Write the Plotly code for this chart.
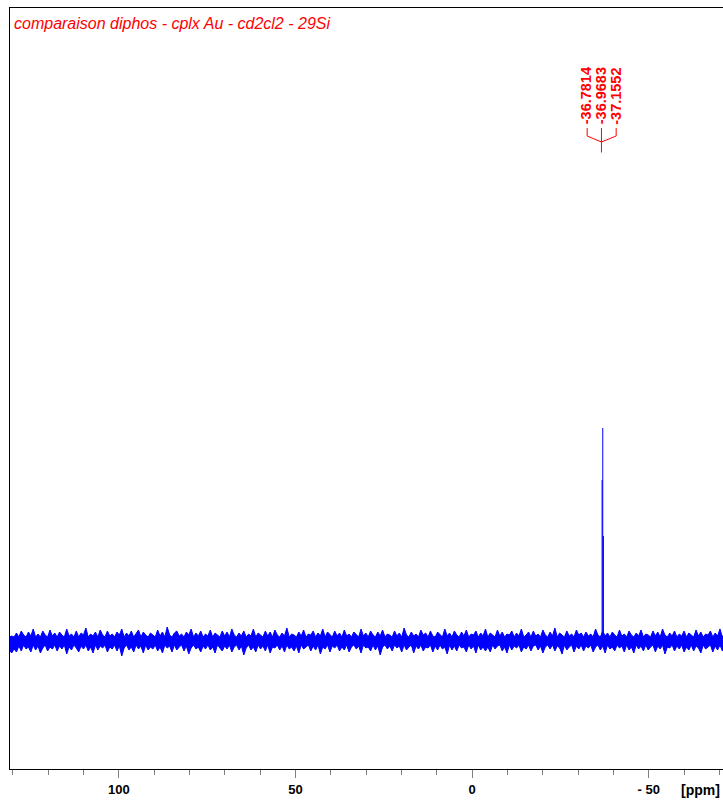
import numpy as np
import plotly.graph_objects as go

# ---- data ----
title_text = "comparaison diphos - cplx Au - cd2cl2 - 29Si"
ppm_start = 131.0
ppm_end = -71.5
# upper / lower envelope of the baseline noise band (intensity units)
noise_upper = [
    4,5,4,8,4,10,6,4,9,5,12,4,7,4,10,6,4,11,5,8,
    4,9,6,4,12,5,7,4,10,4,8,6,13,4,7,5,9,4,11,6,
    4,10,5,7,4,9,6,12,4,8,5,10,4,7,11,4,9,6,4,8,
    6,4,11,5,9,4,14,6,4,8,10,5,7,4,9,6,12,4,8,5,
    10,4,7,5,11,4,8,6,4,10,5,9,4,12,6,4,8,5,10,4,
    7,5,12,4,8,6,4,10,5,9,4,11,6,4,8,5,13,4,7,6,
    4,9,5,11,4,7,6,10,4,8,5,12,4,9,6,4,10,5,8,4,
    11,5,7,4,9,6,4,12,5,8,4,10,6,4,9,5,11,4,7,6,
    4,10,5,8,4,13,6,4,9,5,7,4,11,6,8,4,10,5,4,9,
    6,4,12,5,8,4,10,6,4,9,5,11,4,7,6,10,4,8,5,12,
    4,8,6,4,11,5,9,4,7,6,10,4,8,5,12,4,6,9,4,10,
    5,7,4,11,6,4,9,5,13,4,8,6,4,10,5,7,4,11,6,8,
    4,9,5,7,4,12,6,4,10,5,8,4,9,6,4,11,5,7,4,10,
    6,4,8,5,11,4,7,6,4,10,5,9,4,12,6,4,8,5,10,4,
    7,5,10,4,8,6,4,11,5,9,4,7,6,10,4,8,5,12,4,9,
]
noise_lower = [
    -9,-12,-8,-11,-5,-10,-4,-8,-6,-11,-4,-9,-5,-12,-7,-4,-10,-6,-8,-4,
    -10,-5,-8,-4,-13,-6,-9,-4,-7,-11,-5,-8,-4,-10,-6,-12,-4,-9,-5,-7,
    -4,-11,-6,-8,-4,-10,-5,-15,-7,-4,-9,-6,-11,-4,-8,-5,-12,-4,-9,-6,
    -8,-4,-10,-6,-12,-4,-7,-5,-11,-4,-9,-6,-4,-10,-5,-13,-7,-4,-8,-6,
    -11,-5,-8,-4,-9,-6,-12,-4,-7,-10,-5,-8,-4,-11,-6,-4,-9,-5,-14,-7,
    -4,-9,-6,-11,-4,-8,-5,-10,-4,-12,-6,-7,-4,-9,-5,-11,-4,-8,-6,-10,
    -5,-12,-4,-8,-6,-4,-10,-5,-9,-4,-13,-6,-8,-4,-11,-5,-7,-4,-10,-6,
    -9,-4,-11,-6,-4,-8,-5,-12,-4,-7,-6,-10,-4,-9,-5,-14,-6,-4,-8,-5,
    -10,-4,-7,-5,-11,-4,-9,-6,-4,-12,-5,-8,-4,-10,-6,-7,-4,-11,-5,-9,
    -4,-8,-6,-13,-4,-9,-5,-10,-4,-7,-6,-11,-4,-8,-5,-12,-4,-9,-6,-10,
    -6,-11,-4,-8,-5,-4,-10,-6,-12,-4,-9,-5,-7,-4,-11,-6,-8,-4,-10,-5,
    -4,-9,-5,-12,-6,-4,-8,-4,-10,-5,-7,-13,-4,-9,-6,-4,-11,-5,-8,-4,
    -10,-5,-7,-4,-11,-6,-4,-9,-5,-12,-4,-8,-6,-10,-4,-7,-5,-11,-4,-9,
    -6,-12,-4,-8,-5,-10,-4,-9,-6,-4,-11,-5,-8,-4,-13,-6,-7,-4,-10,-5,
    -8,-4,-11,-6,-9,-4,-10,-5,-7,-12,-4,-8,-6,-4,-11,-5,-9,-4,-10,-6,
]
peak_ppm = [-36.7814, -36.9683, -37.1552]
peak_heights = [161, 213, 105]
peak_labels = ["-36.7814", "-36.9683", "-37.1552"]
major_ticks = [100, 50, 0, -50]
major_tick_text = ["100", "50", "0", "- 50"]
minor_ticks = [130, 120, 110, 90, 80, 70, 60, 40, 30, 20, 10,
               -10, -20, -30, -40, -60, -70]

# ---- build figure ----
nx_up = np.linspace(ppm_start, ppm_end, len(noise_upper))
nx_lo = np.linspace(ppm_start, ppm_end, len(noise_lower))
band_x = list(nx_up) + list(nx_lo[::-1])
band_y = list(noise_upper) + list(noise_lower[::-1])

peak_x, peak_y = [], []
for p, h in zip(peak_ppm, peak_heights):
    peak_x += [p, p, None]
    peak_y += [0, h, None]

fig = go.Figure()
fig.add_trace(go.Scatter(x=band_x, y=band_y, mode="lines", fill="toself",
                         fillcolor="#0000ff",
                         line=dict(color="#0000ff", width=1),
                         hoverinfo="skip", showlegend=False))
fig.add_trace(go.Scatter(x=peak_x, y=peak_y, mode="lines",
                         line=dict(color="#0000ff", width=1),
                         hoverinfo="skip", showlegend=False))

FONT = "Liberation Sans, Arial, sans-serif"

fig.update_layout(
    width=723, height=800,
    margin=dict(l=10, r=0, t=8, b=31),
    paper_bgcolor="white", plot_bgcolor="white",
    showlegend=False,
    xaxis=dict(
        range=[130.8, -71.0],
        tickmode="array", tickvals=major_ticks, ticktext=major_tick_text,
        ticks="outside", ticklen=8, tickwidth=1, tickcolor="#808080",
        tickfont=dict(family=FONT, size=13, color="black", weight="bold"),
        showgrid=False, zeroline=False,
        showline=True, linecolor="black", linewidth=1, mirror=True,
        minor=dict(tickmode="array", tickvals=minor_ticks, ticks="outside",
                   ticklen=5, tickwidth=1, tickcolor="#808080", showgrid=False),
    ),
    yaxis=dict(
        range=[-128, 633],
        showticklabels=False, ticks="", showgrid=False, zeroline=False,
        showline=True, linecolor="black", linewidth=1,
    ),
)

# title text
fig.add_annotation(text="<i>" + title_text + "</i>", xref="paper", yref="paper",
                   x=0, y=1, xanchor="left", yanchor="top", xshift=2, yshift=-5,
                   showarrow=False, font=dict(family=FONT, size=16, color="#ff0000"))

# [ppm] unit label
fig.add_annotation(text="<b>[ppm]</b>", xref="x", yref="paper", x=-64.5, y=0,
                   yanchor="top", yshift=-11, showarrow=False,
                   font=dict(family=FONT, size=14, color="black"))

# peak labels
label_shift = [-16.5, -1.5, 13]
center = peak_ppm[1]
for lab, dx in zip(peak_labels, label_shift):
    fig.add_annotation(text="<b>" + lab + "</b>", xref="x", yref="paper",
                       x=center, y=1, xshift=dx, yshift=-88,
                       xanchor="center", yanchor="middle", textangle=-90,
                       showarrow=False,
                       font=dict(family=FONT, size=14.5, color="#ff0000"))

# bracket connecting labels to the multiplet
fig.add_shape(type="path", xref="x", yref="paper",
              xsizemode="pixel", ysizemode="pixel",
              xanchor=center, yanchor=1,
              path="M -15.6,-120 L -15.6,-128 L -1.3,-134 L 13.4,-128 L 13.4,-120 "
                   "M -1.3,-120 L -1.3,-144.5",
              line=dict(color="#ff0000", width=1))

fig.write_html("out.html", config={"displayModeBar": False},
               post_script="document.body.style.margin='0';")
